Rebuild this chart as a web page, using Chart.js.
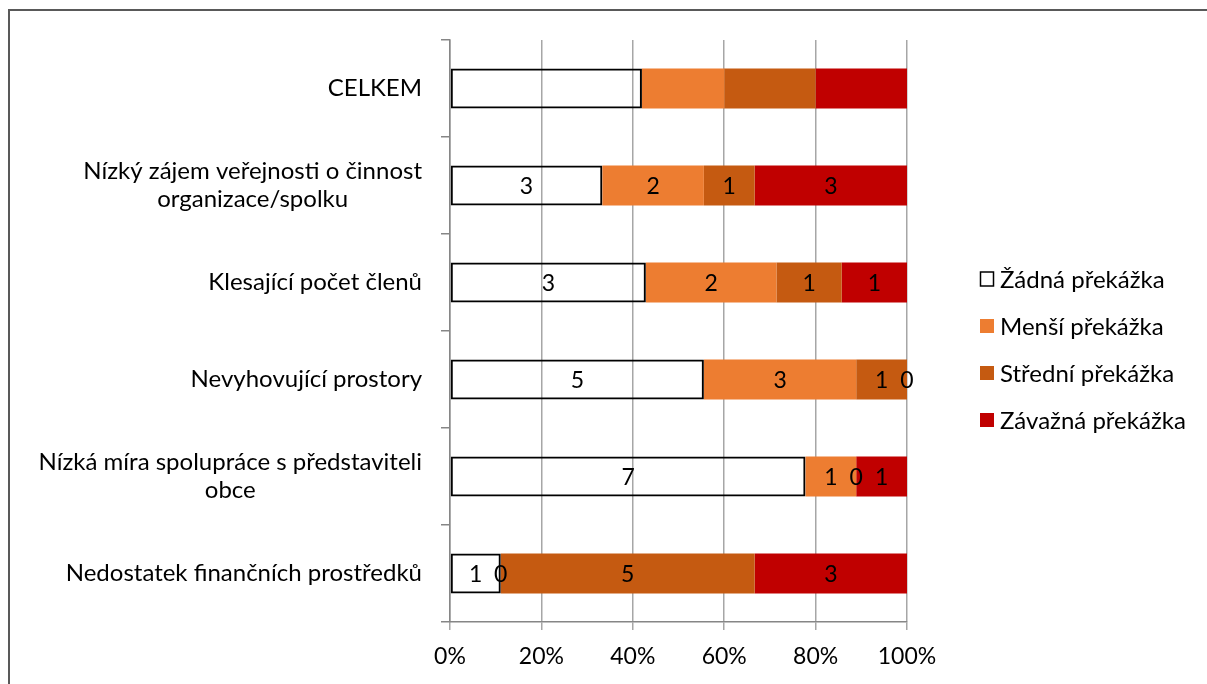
<!DOCTYPE html>
<html>
<head>
<meta charset="utf-8">
<script src="https://cdn.jsdelivr.net/npm/chart.js@4/dist/chart.umd.min.js"></script>
<style>
html, body { margin: 0; padding: 0; background: #fff; overflow: hidden; }
#wrap { position: relative; width: 1207px; height: 684px; }
#frame { position: absolute; left: 8px; top: 9px; width: 1300px; height: 800px; border: 2px solid #595959; box-sizing: border-box; }
canvas { position: absolute; left: 0; top: 0; }
</style>
</head>
<body>
<div id="wrap"><div id="frame"></div><canvas id="chart" width="1207" height="684"></canvas></div>
<script>
const categories = [
	["CELKEM"],
	["Nízký zájem veřejnosti o činnost", "organizace/spolku"],
	["Klesající počet členů"],
	["Nevyhovující prostory"],
	["Nízká míra spolupráce s představiteli", "obce"],
	["Nedostatek finančních prostředků"],
];
const seriesNames = ["Žádná překážka", "Menší překážka", "Střední překážka", "Závažná překážka"];

// počty odpovědí (řádek CELKEM nemá popisky)
const zadna = [null, 3, 3, 5, 7, 1];
const mensi = [null, 2, 2, 3, 1, 0];
const stredni = [null, 1, 1, 1, 0, 5];
const zavazna = [null, 3, 1, 0, 1, 3];
// CELKEM v %
const celkem = [42, 18, 20, 20];
const xTicks = [0, 20, 40, 60, 80, 100];

const colors = ["rgba(255,255,255,0)", "#ed7d31", "#c55a11", "#c00000"];
const FONT = "24px Lato";
const VALUE_FONT = "23px Lato";
const counts = [zadna, mensi, stredni, zavazna];

function share(s) {
	return categories.map((c, i) => {
		if (i === 0) return celkem[s];
		const tot = counts.reduce((a, arr) => a + arr[i], 0);
		return counts[s][i] / tot * 100;
	});
}

const labelPlugin = {
	id: "labels",
	afterDatasetsDraw(chart) {
		const ctx = chart.ctx;
		ctx.save();
		ctx.font = VALUE_FONT;
		ctx.fillStyle = "#000";
		ctx.textAlign = "center";
		ctx.textBaseline = "middle";
		chart.data.datasets.forEach((ds, d) => {
			chart.getDatasetMeta(d).data.forEach((bar, i) => {
				const v = counts[d][i];
				if (v === null) return;
				ctx.fillText(String(v), (bar.x + bar.base) / 2, bar.y + 1);
			});
		});
		ctx.restore();
	},
	afterDraw(chart) {
		const ctx = chart.ctx;
		const y = chart.scales.y;
		ctx.save();
		ctx.font = FONT;
		ctx.fillStyle = "#000";
		ctx.textAlign = "center";
		ctx.textBaseline = "middle";
		// popisky kategorií, řádky zarovnané na střed
		categories.forEach((lines, i) => {
			const w = Math.max(...lines.map(l => ctx.measureText(l).width));
			const cx = chart.chartArea.left - 28 - w / 2;
			const cy = y.getPixelForTick(i);
			const lh = 28;
			lines.forEach((l, k) => {
				ctx.fillText(l, cx, cy + (k - (lines.length - 1) / 2) * lh);
			});
		});
		// legenda
		ctx.textAlign = "left";
		chart.data.datasets.forEach((ds, d) => {
			const ly = 279 + d * 47;
			if (d === 0) {
				ctx.strokeStyle = "#000";
				ctx.lineWidth = 1.5;
				ctx.strokeRect(980.5, ly - 7, 13, 14);
			} else {
				ctx.fillStyle = ds.backgroundColor;
				ctx.fillRect(980, ly - 7, 14, 14);
			}
			ctx.fillStyle = "#000";
			ctx.fillText(ds.label, 1000, ly + 1);
		});
		ctx.restore();
	},
};

new Chart(document.getElementById("chart"), {
	type: "bar",
	data: {
		labels: categories,
		datasets: seriesNames.map((name, s) => ({
			label: name,
			data: share(s),
			backgroundColor: colors[s],
			borderColor: s === 0 ? "#000" : colors[s],
			borderWidth: s === 0 ? 2 : 0,
			borderSkipped: false,
			barPercentage: 0.41,
			categoryPercentage: 1,
		})),
	},
	options: {
		indexAxis: "y",
		responsive: false,
		animation: false,
		layout: { padding: { top: 40, right: 300, bottom: 0, left: 0 } },
		plugins: {
			legend: { display: false },
			tooltip: { enabled: false },
		},
		scales: {
			x: {
				stacked: true,
				min: 0,
				max: 100,
				afterBuildTicks: (scale) => { scale.ticks = xTicks.map(v => ({ value: v })); },
				afterFit: (scale) => { scale.height = 62; },
				ticks: {
					callback: (v) => v + "%",
					color: "#000",
					font: { family: "Lato", size: 23 },
					padding: 13,
					maxRotation: 0,
				},
				grid: { color: "#a6a6a6", lineWidth: 1.5, tickLength: 8 },
				border: { color: "#868686", width: 1.5 },
			},
			y: {
				stacked: true,
				ticks: { display: false },
				afterFit: (scale) => { scale.width = 450; },
				grid: { drawOnChartArea: false, color: "#868686", lineWidth: 1.5, tickLength: 9 },
				border: { color: "#868686", width: 1.5 },
			},
		},
	},
	plugins: [labelPlugin],
});
</script>
</body>
</html>
